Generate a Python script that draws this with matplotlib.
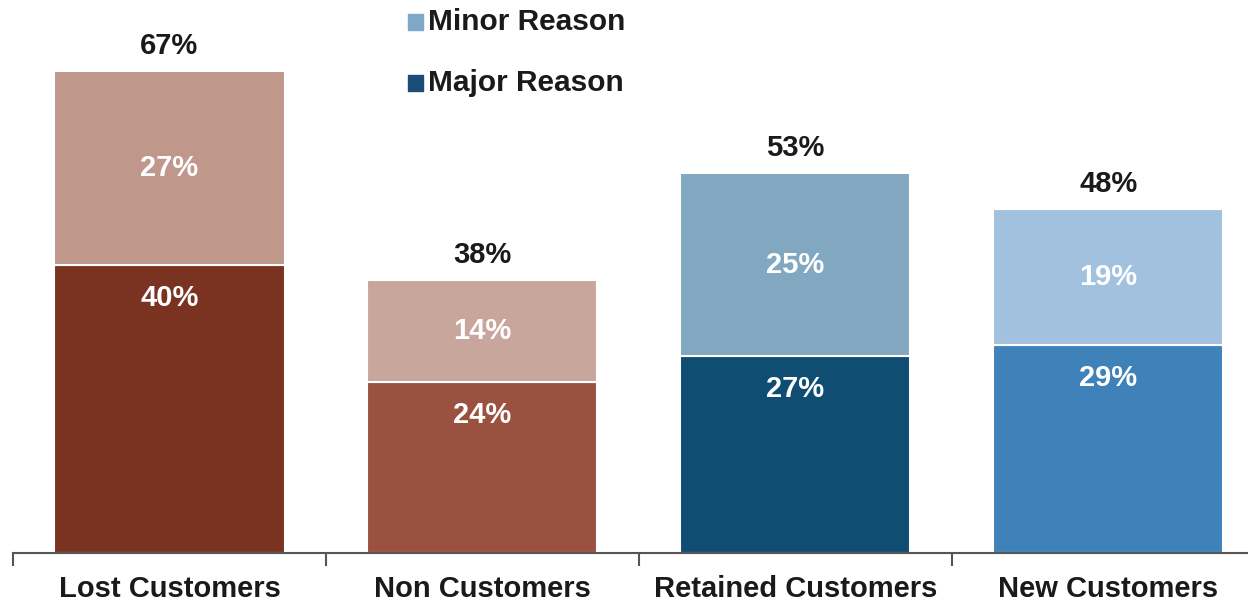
import matplotlib.pyplot as plt
from matplotlib.patches import Rectangle

plt.rcParams['font.family'] = ['Liberation Sans', 'DejaVu Sans']

categories = ['Lost Customers', 'Non Customers', 'Retained Customers', 'New Customers']
major = [40, 23.8, 27.4, 28.9]
minor = [27, 14.2, 25.4, 18.9]

major_colors = ['#7a3320', '#9a5140', '#0f4d72', '#3f82ba']
minor_colors = ['#bf978b', '#c9a69c', '#81a8c0', '#a2c1df']

fig = plt.figure(figsize=(12.48, 6.06), dpi=100)
ax = fig.add_axes([13 / 1248, 53 / 606, 1235 / 1248, 553 / 606])

x = list(range(len(categories)))
w = 0.735
ax.bar(x, major, width=w, color=major_colors, edgecolor='white', linewidth=1.5)
ax.bar(x, minor, width=w, bottom=major, color=minor_colors, edgecolor='white', linewidth=1.5)

for i in x:
    tot = major[i] + minor[i]
    ax.text(i, major[i] - 4.6, f'{round(major[i])}%', ha='center', va='center',
            color='white', fontsize=21, fontweight='bold')
    ax.text(i, major[i] + minor[i] / 2, f'{round(minor[i])}%', ha='center', va='center',
            color='white', fontsize=21, fontweight='bold')
    ax.text(i, tot + 3.5, f'{round(tot)}%', ha='center', va='center',
            color='#1a1a1a', fontsize=21, fontweight='bold')

for s in ['top', 'right', 'left']:
    ax.spines[s].set_visible(False)
ax.spines['bottom'].set_color('#555555')
ax.spines['bottom'].set_linewidth(1.5)
ax.set_yticks([])
ax.set_xticks([-0.5, 0.5, 1.5, 2.5, 3.5])
ax.set_xticklabels([])
ax.tick_params(axis='x', direction='out', length=9, width=1.5, color='#555555')
ax.set_xticks(x, minor=True)
ax.set_xticklabels(categories, minor=True, fontsize=21, fontweight='bold', color='#1a1a1a')
ax.tick_params(axis='x', which='minor', length=0, pad=16)
ax.set_xlim(-0.5, 3.446)
ax.set_ylim(0, 76.9)

# legend
for ypix, label, col in [(22, 'Minor Reason', '#7fa7c6'), (83, 'Major Reason', '#1a4e78')]:
    fig.patches.append(Rectangle((408 / 1248, 1 - (ypix + 7.5) / 606), 15 / 1248, 15 / 606,
                                 transform=fig.transFigure, color=col))
    fig.text(428 / 1248, 1 - ypix / 606, label, fontsize=21.5, fontweight='bold',
             color='#1a1a1a', va='center', ha='left')

fig.savefig('out.png', dpi=100)
